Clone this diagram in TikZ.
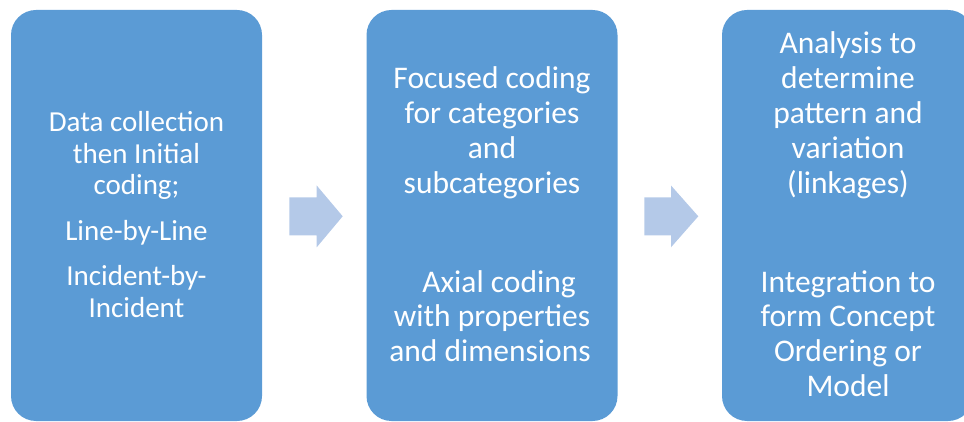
\documentclass[tikz,border=0pt]{standalone}
\usepackage{fontspec}
\setmainfont{Carlito}
\definecolor{stageblue}{HTML}{5B9BD5}
\definecolor{flowblue}{HTML}{B4C9E8}
\begin{document}
\begin{tikzpicture}[x=1pt,y=-1pt,
  stagebox/.style={fill=stageblue,draw=none,rounded corners=25pt},
  flowarrow/.style={fill=flowblue,draw=none},
  small/.style={text=white,anchor=base,inner sep=0pt,font=\fontsize{29}{31.5}\selectfont},
  big/.style={text=white,anchor=base,inner sep=0pt,font=\fontsize{31.5}{35}\selectfont}]
\useasboundingbox (0,0) rectangle (964,422);
\clip (0,0) rectangle (964,422);

% stage boxes
\path[stagebox] (11,10) rectangle (262,421);
\path[stagebox] (366.5,10) rectangle (617.5,421);
\path[stagebox] (722,10) rectangle (973,421);
\coordinate (s1) at (136.5,0);
\coordinate (s2) at (492,0);
\coordinate (s3) at (848,0);

% block arrows between the stages
\path[flowarrow] (289.3,197.5) -- (316.7,197.5) -- (316.7,185.5) -- (342.7,216.3)
  -- (316.7,247.3) -- (316.7,235.5) -- (289.3,235.5) -- cycle;
\path[flowarrow] (644.3,197.5) -- (671,197.5) -- (671,185.5) -- (698.3,216.3)
  -- (671,247.3) -- (671,235.5) -- (644.3,235.5) -- cycle;

% stage 1
\node[small] (a1) at (136.5,131.7) {Data collection};
\node[small] (a2) at (136.5,163.3) {then Initial};
\node[small] (a3) at (136.5,194.8) {coding;};
\node[small] (a4) at (136.5,240.7) {Line-by-Line};
\node[small] (a5) at (136.5,285.2) {Incident-by-};
\node[small] (a6) at (136.5,317.3) {Incident};

% stage 2
\node[big] (b1) at (492,88.3) {Focused coding};
\node[big] (b2) at (492,123.3) {for categories};
\node[big] (b3) at (492,158.3) {and};
\node[big] (b4) at (492,193.3) {subcategories};
\node[big] (b5) at (499,292.3) {Axial coding};
\node[big] (b6) at (492,326.7) {with properties};
\node[big] (b7) at (490,361.2) {and dimensions};

% stage 3
\node[big] (c1) at (848,53.3) {Analysis to};
\node[big] (c2) at (848,88.3) {determine};
\node[big] (c3) at (848,123.3) {pattern and};
\node[big] (c4) at (848,158.3) {variation};
\node[big] (c5) at (848,193.3) {(linkages)};
\node[big] (c6) at (848,292.3) {Integration to};
\node[big] (c7) at (848,326.7) {form Concept};
\node[big] (c8) at (848,361.7) {Ordering or};
\node[big] (c9) at (848,396.7) {Model};
\end{tikzpicture}
\end{document}
